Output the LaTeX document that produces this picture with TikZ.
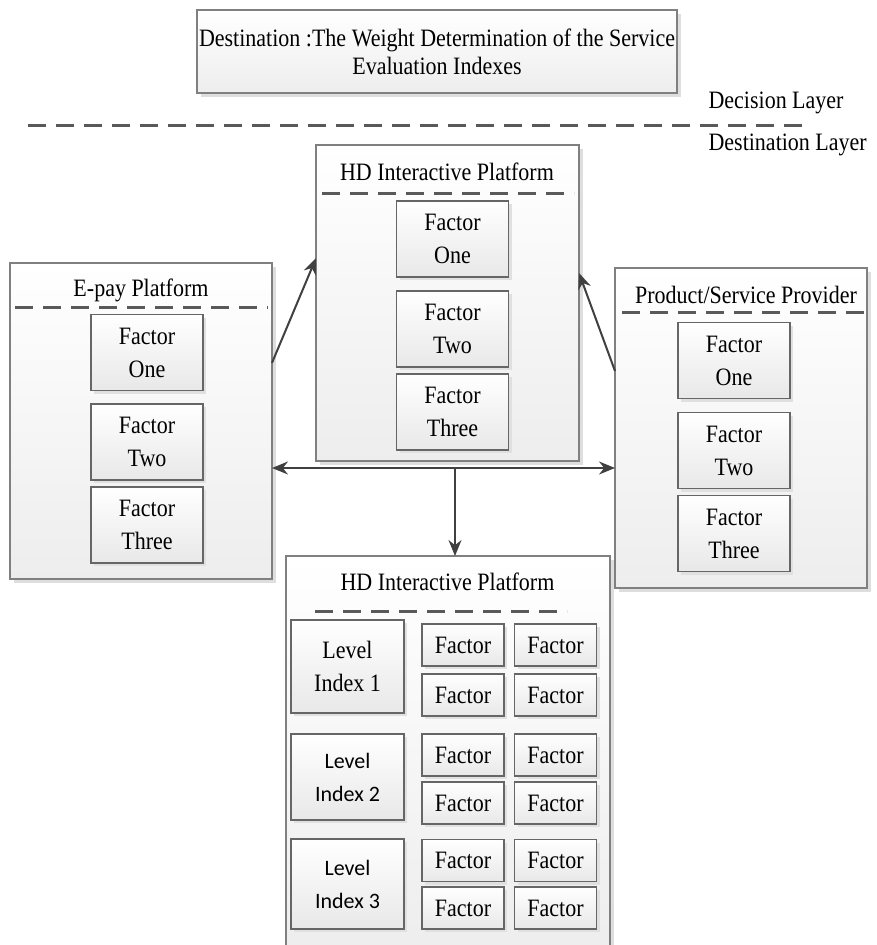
\documentclass[tikz,border=0pt]{standalone}
\usepackage{fontspec}
\setmainfont{Liberation Serif}[FakeStretch=0.88]
\newfontfamily\levelfont{Carlito}
\usetikzlibrary{%
  arrows.meta,%
  calc,%
  positioning,%
  shadows%
}

\tikzset{
  panel/.style={draw=black!50, line width=1.2pt, top color=white, bottom color=black!7,
    drop shadow={shadow xshift=4pt, shadow yshift=-4pt, fill=black!13, opacity=1},
    inner sep=0pt, outer sep=0pt},
  factorbox/.style={draw=black!60, line width=1.2pt, top color=white, bottom color=black!9,
    drop shadow={shadow xshift=3pt, shadow yshift=-3pt, fill=black!12, opacity=1},
    minimum width=112pt, minimum height=76pt, align=center, inner sep=0pt, outer sep=0pt,
    font=\fontsize{25}{33}\selectfont},
  smallbox/.style={factorbox, minimum width=82pt, minimum height=42pt},
  levelbox/.style={factorbox, minimum width=113pt},
  levelsans/.style={font=\levelfont\fontsize{22}{33}\selectfont},
  layerline/.style={draw=black!65, line width=3pt, dash pattern=on 18pt off 10pt},
  link/.style={draw=black!75, line width=2pt},
}

\begin{document}
\begin{tikzpicture}[
  x=1pt, y=-1pt,
  >={Stealth[length=16pt,width=13pt]},
  font=\fontsize{25}{28}\selectfont,
]
\useasboundingbox (0,0) rectangle (876,945);

% destination and layers
\node[panel, minimum width=480pt, minimum height=83pt, align=center] (goal) at (437,51.5)
  {Destination :The Weight Determination of the Service\\Evaluation Indexes};
\node[anchor=west] (decision) at (705,103) {Decision Layer};
\node[anchor=west] (destination) at (705,145) {Destination Layer};
\draw[layerline] (28,125) -- (811,125);

% e-pay platform
\node[panel, minimum width=262pt, minimum height=316pt] (epay) at (141,421) {};
\node (epaytitle) at (141,290) {E-pay Platform};
\draw[layerline] (15,307) -- (268,307);
\foreach \n/\yy/\t in {1/352.5/One,2/442/Two,3/525/Three} {
  \node[factorbox] (epayf\n) at (147,\yy) {Factor\\\t};
}

% hd interactive platform (top)
\node[panel, minimum width=263pt, minimum height=316pt] (hdtop) at (447.5,303) {};
\node (hdtoptitle) at (447,172) {HD Interactive Platform};
\draw[layerline] (322,193) -- (574,193);
\foreach \n/\yy/\t in {1/239/One,2/329/Two,3/412/Three} {
  \node[factorbox] (hdtopf\n) at (452.5,\yy) {Factor\\\t};
}

% product/service provider
\node[panel, minimum width=252pt, minimum height=320pt] (provider) at (741,428) {};
\node (providertitle) at (746,295) {Product/Service Provider};
\draw[layerline] (622,312) -- (866,312);
\foreach \n/\yy/\t in {1/360.5/One,2/450.5/Two,3/533.5/Three} {
  \node[factorbox] (providerf\n) at (734,\yy) {Factor\\\t};
}

% hd interactive platform (bottom)
\node[panel, minimum width=324pt, minimum height=399pt] (hdlow) at (448,755.5) {};
\node (hdlowtitle) at (447.5,582) {HD Interactive Platform};
\draw[layerline] (315,611) -- (567,611);
\node[levelbox, minimum height=93pt] (level1) at (347.5,666.5) {Level\\Index 1};
\node[levelbox, levelsans, minimum height=86pt] (level2) at (347.5,777) {Level\\Index 2};
\node[levelbox, levelsans, minimum height=90pt] (level3) at (347.5,884) {Level\\Index 3};
\foreach \r/\yy in {1/645,2/695,3/755,4/803,5/860.5,6/908} {
  \node[smallbox] (fa\r) at (463,\yy) {Factor};
  \node[smallbox] (fb\r) at (555.5,\yy) {Factor};
}

% links
\coordinate (hub) at (455,468);
\draw[link,->] ($(epay.north east)!0.316!(epay.south east)$) -- ($(hdtop.north west)!0.358!(hdtop.south west)$);
\draw[link,->] ($(provider.north west)!0.322!(provider.south west)$) -- ($(hdtop.north east)!0.405!(hdtop.south east)$);
\draw[link,<->] (epay.east |- hub) -- (provider.west |- hub);
\draw[link,->] (hub) -- (hub |- hdlow.north);
\end{tikzpicture}
\end{document}
